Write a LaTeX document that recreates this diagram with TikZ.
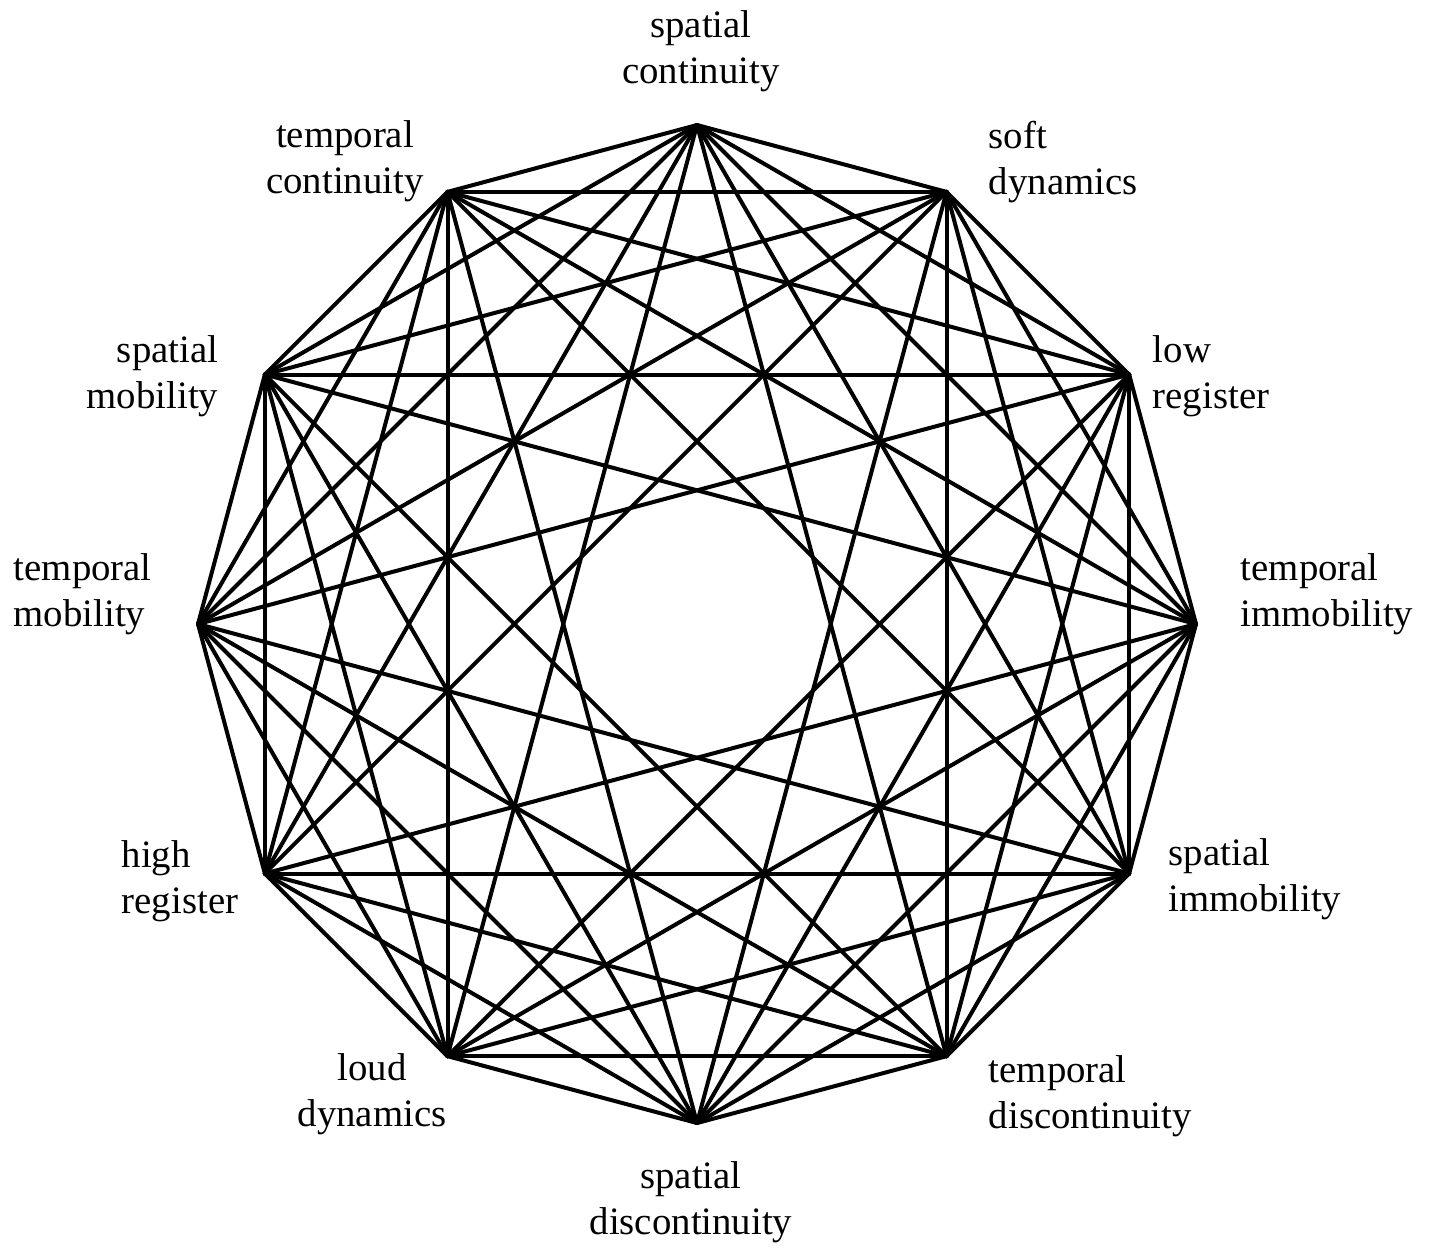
\documentclass[tikz,border=0pt]{standalone}
\usepackage{fontspec}
\setmainfont{Liberation Serif}
\usetikzlibrary{calc}

\begin{document}
\begin{tikzpicture}[
  x=0.25pt, y=-0.25pt,
  edge/.style={line width=1pt, line cap=round},
  lbl/.style={inner sep=0pt, font=\fontsize{9.7}{11.5}\selectfont},
  lblc/.style={lbl, align=center},
  lbll/.style={lbl, align=left, anchor=west},
  lblr/.style={lbl, align=right, anchor=east},
]
  \useasboundingbox (0,0) rectangle (1432,1247);

  % twelve corners, clockwise from the top
  \foreach \i in {0,...,11}
    \coordinate (v\i) at ($(697,624)+({30*\i-90}:499)$);

  % every pair joined, except the opposite ones
  \foreach \i in {0,...,10} {
    \pgfmathtruncatemacro\first{\i+1}
    \foreach \j in {\first,...,11} {
      \ifnum\numexpr\j-\i\relax=6 \else
        \draw[edge] (v\i) -- (v\j);
      \fi
    }
  }

  \node[lblc] (sc) at (701,51) {\strut spatial\\\strut continuity};
  \node[lbll] (sd) at (988,162) {\strut soft\\\strut dynamics};
  \node[lbll] (lr) at (1152,376) {\strut low\\\strut register};
  \node[lbll] (ti) at (1240,594) {\strut temporal\\\strut immobility};
  \node[lbll] (si) at (1168,879) {\strut spatial\\\strut immobility};
  \node[lbll] (td) at (988,1096) {\strut temporal\\\strut discontinuity};
  \node[lblc] (sdc) at (691,1202) {\strut spatial\\\strut discontinuity};
  \node[lblc] (ld) at (372,1094) {\strut loud\\\strut dynamics};
  \node[lbll] (hr) at (121,881) {\strut high\\\strut register};
  \node[lbll] (tm) at (13,594) {\strut temporal\\\strut mobility};
  \node[lblr] (sm) at (219,376) {\strut spatial\\\strut mobility};
  \node[lblc] (tc) at (345,161) {\strut temporal\\\strut continuity};
\end{tikzpicture}
\end{document}
